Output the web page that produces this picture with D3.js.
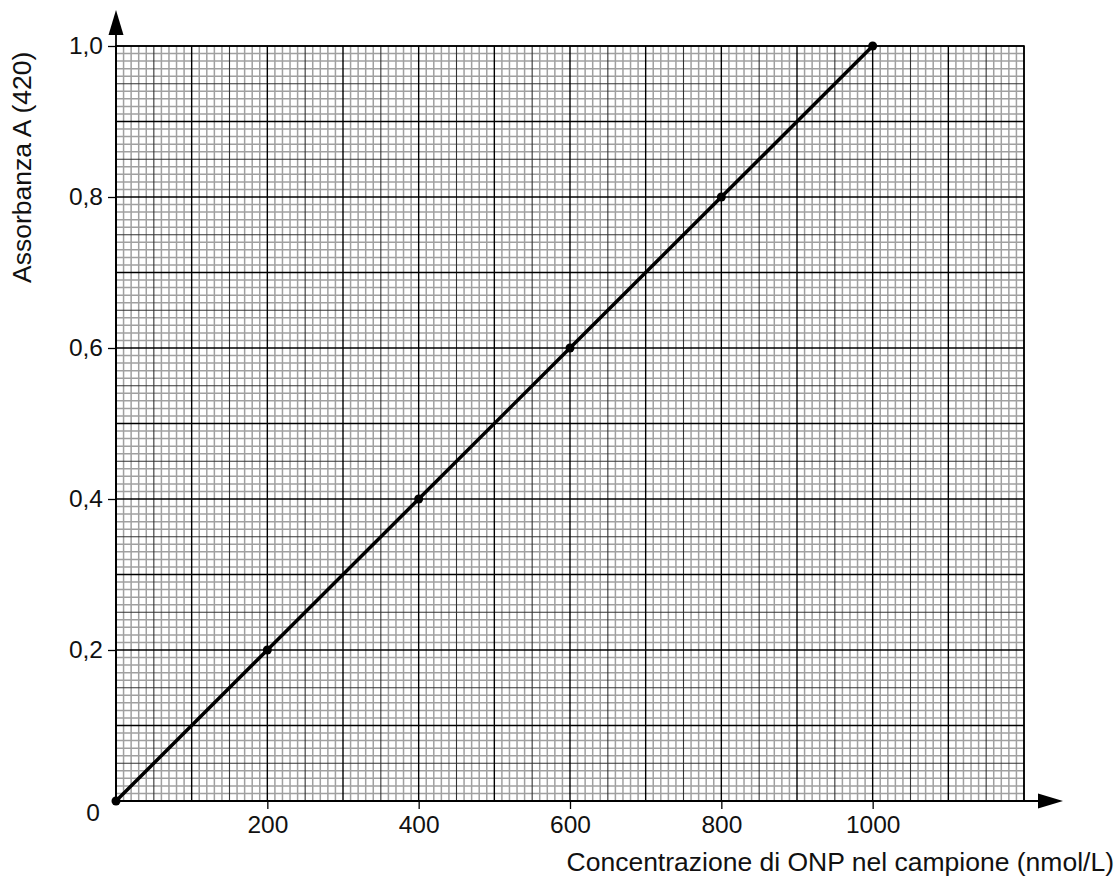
<!DOCTYPE html>
<html>
<head>
<meta charset="utf-8">
<script src="https://cdn.jsdelivr.net/npm/d3@7"></script>
<style>
  body { margin: 0; background: #fff; }
  svg { font-family: "Liberation Sans", Arial, sans-serif; }
</style>
</head>
<body>
<script>
// calibration points
let concentration = [0, 200, 400, 600, 800, 1000];
let absorbance = [0, 0.2, 0.4, 0.6, 0.8, 1.0];
let xTicks = [200, 400, 600, 800, 1000];
let yTicks = [0.2, 0.4, 0.6, 0.8, 1.0];

let width = 1117, height = 879;
let x0 = 116, x1 = 1024, y0 = 801, y1 = 46;

let x = d3.scaleLinear().domain([0, 1200]).range([x0, x1]);
let y = d3.scaleLinear().domain([0, 1]).range([y0, y1]);

let svg = d3.select('body')
  .append('svg')
  .attr('width', width)
  .attr('height', height);

// graph paper grid
let grid = svg.append('g');
let minorX = d3.range(0, 1201, 10);
let minorY = d3.range(0, 101).map(function(d) { return d / 100; });

function lineStyle(i) {
  if (i % 10 === 0) return { c: '#000', w: 1.4 };
  if (i % 5 === 0) return { c: '#333', w: 1.1 };
  return { c: '#a0a0a0', w: 1.5 };
}

// minor first, then medium, then major on top
[0, 1, 2].forEach(function(level) {
  minorX.forEach(function(v, i) {
    let lvl = i % 10 === 0 ? 2 : (i % 5 === 0 ? 1 : 0);
    if (lvl !== level) return;
    let s = lineStyle(i);
    grid.append('line')
      .attr('x1', x(v)).attr('x2', x(v))
      .attr('y1', y(0)).attr('y2', y(1))
      .attr('stroke', s.c).attr('stroke-width', s.w);
  });
  minorY.forEach(function(v, i) {
    let lvl = i % 10 === 0 ? 2 : (i % 5 === 0 ? 1 : 0);
    if (lvl !== level) return;
    let s = lineStyle(i);
    grid.append('line')
      .attr('x1', x(0)).attr('x2', x(1200))
      .attr('y1', y(v)).attr('y2', y(v))
      .attr('stroke', s.c).attr('stroke-width', s.w);
  });
});

// border
svg.append('rect')
  .attr('x', x(0)).attr('y', y(1))
  .attr('width', x(1200) - x(0)).attr('height', y(0) - y(1))
  .attr('fill', 'none').attr('stroke', '#000').attr('stroke-width', 1.6);

// axes
let xAxis = d3.axisBottom(x).tickValues(xTicks).tickSize(8).tickPadding(12)
  .tickFormat(d3.format('d'));
let yAxis = d3.axisLeft(y).tickValues(yTicks).tickSize(8).tickPadding(12)
  .tickFormat(function(d) { return d3.format('.1f')(d).replace('.', ','); });

let gx = svg.append('g').attr('transform', 'translate(0,' + y0 + ')').call(xAxis);
let gy = svg.append('g').attr('transform', 'translate(' + x0 + ',0)').call(yAxis);
[gx, gy].forEach(function(g) {
  g.attr('font-size', 24.5).attr('font-family', '"Liberation Sans", Arial, sans-serif');
  g.select('.domain').remove();
  g.selectAll('.tick line').attr('stroke', '#000').attr('stroke-width', 1.3);
  g.selectAll('.tick text').attr('fill', '#111');
});
gx.selectAll('.tick text').attr('dy', '0.75em').attr('y', 14);
gy.selectAll('.tick text').attr('x', -13);

// axis lines with arrows
svg.append('line')
  .attr('x1', x0).attr('x2', 1042).attr('y1', y0).attr('y2', y0)
  .attr('stroke', '#000').attr('stroke-width', 1.8);
svg.append('path')
  .attr('d', 'M1038,' + (y0 - 7.5) + 'L1063,' + y0 + 'L1038,' + (y0 + 7.5) + 'Z')
  .attr('fill', '#000');
svg.append('line')
  .attr('x1', x0).attr('x2', x0).attr('y1', y0).attr('y2', 32)
  .attr('stroke', '#000').attr('stroke-width', 1.8);
svg.append('path')
  .attr('d', 'M' + (x0 - 7.5) + ',35L' + x0 + ',10L' + (x0 + 7.5) + ',35Z')
  .attr('fill', '#000');

// origin label
svg.append('text')
  .attr('x', 93).attr('y', 821)
  .attr('text-anchor', 'middle')
  .attr('font-size', 24.5).attr('fill', '#111')
  .text('0');

// axis titles
svg.append('text')
  .attr('x', 1114).attr('y', 871)
  .attr('text-anchor', 'end')
  .attr('font-size', 26.5).attr('fill', '#111')
  .text('Concentrazione di ONP nel campione (nmol/L)');
svg.append('text')
  .attr('transform', 'translate(31,283) rotate(-90)')
  .attr('text-anchor', 'start')
  .attr('font-size', 26.5).attr('fill', '#111')
  .text('Assorbanza A (420)');

// calibration line and points
let pts = concentration.map(function(c, i) { return { c: c, a: absorbance[i] }; });
svg.append('path')
  .datum(pts)
  .attr('d', d3.line().x(function(d) { return x(d.c); }).y(function(d) { return y(d.a); }))
  .attr('fill', 'none').attr('stroke', '#000').attr('stroke-width', 3.5);
svg.selectAll('circle.pt')
  .data(pts)
  .join('circle')
  .attr('class', 'pt')
  .attr('cx', function(d) { return x(d.c); })
  .attr('cy', function(d) { return y(d.a); })
  .attr('r', 4.5)
  .attr('fill', '#000');
</script>
</body>
</html>
